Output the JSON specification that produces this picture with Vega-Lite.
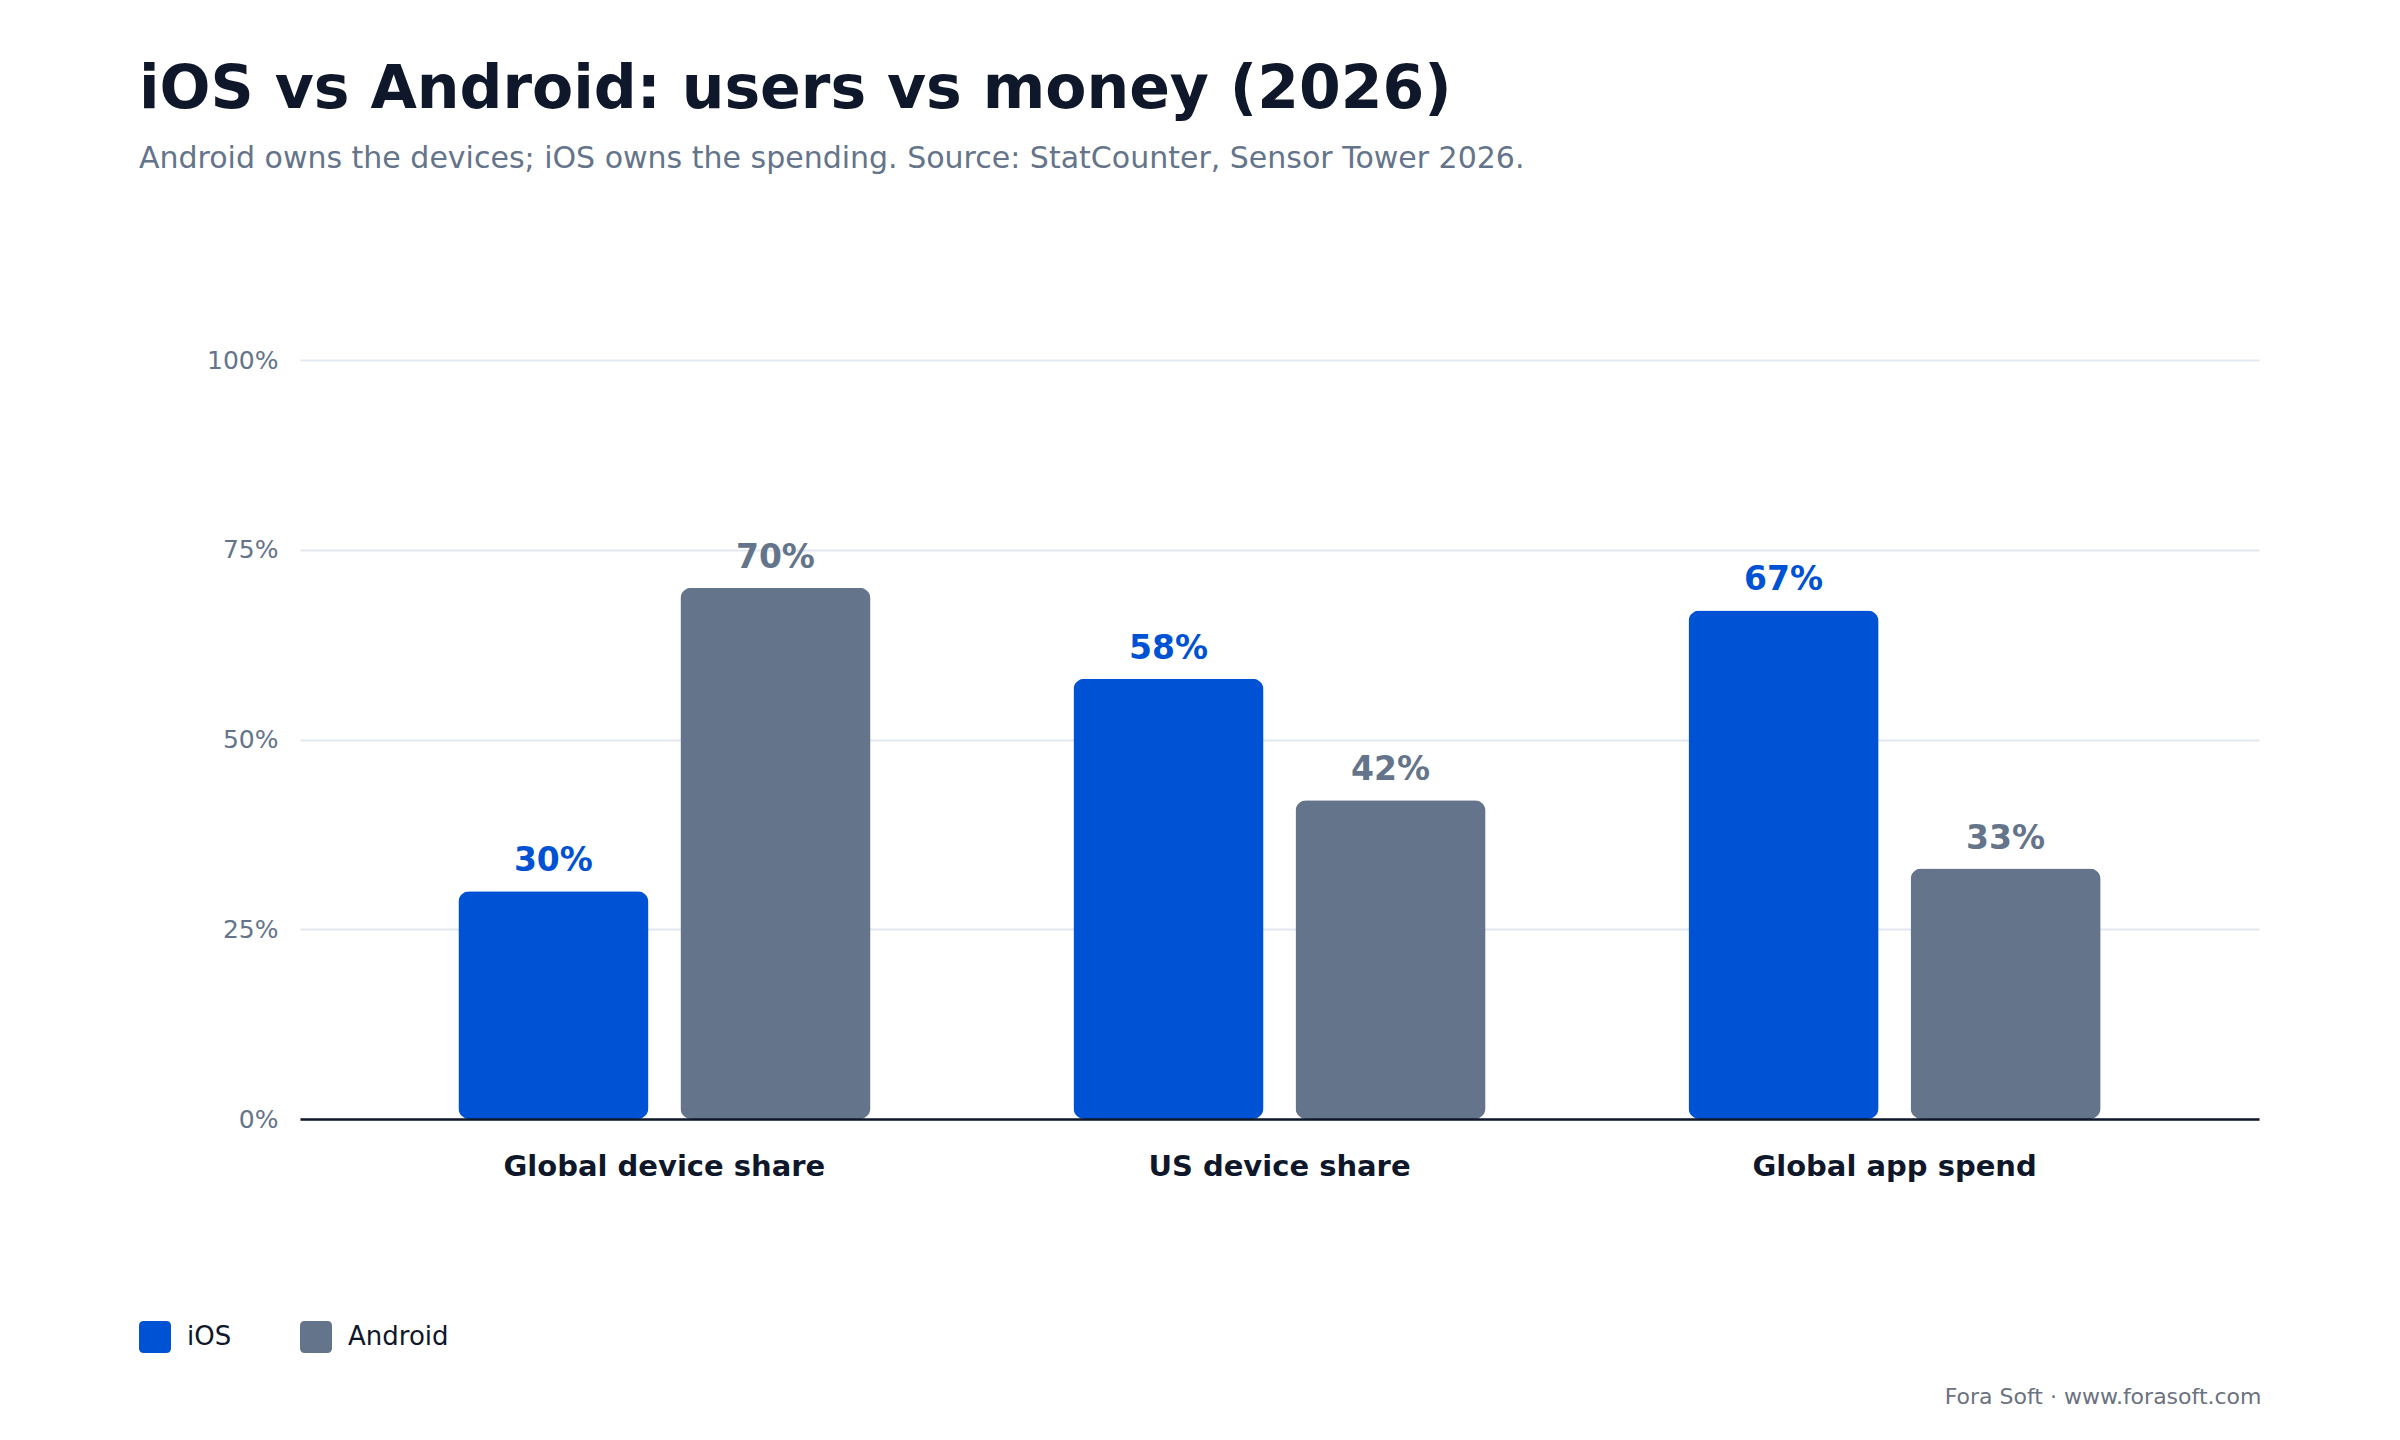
{
  "$schema": "https://vega.github.io/schema/vega-lite/v6.json",
  "autosize": {"type": "none"},
  "width": 1959,
  "height": 759,
  "padding": {"left": 300, "top": 360, "right": 141, "bottom": 321},
  "background": "white",
  "config": {"font": "DejaVu Sans", "view": {"stroke": null}},
  "title": {
    "text": "iOS vs Android: users vs money (2026)",
    "subtitle": "Android owns the devices; iOS owns the spending. Source: StatCounter, Sensor Tower 2026.",
    "anchor": "start",
    "frame": "group",
    "dx": -161,
    "offset": 173,
    "font": "DejaVu Sans",
    "fontSize": 60,
    "fontWeight": "bold",
    "color": "#0F172A",
    "subtitleFont": "DejaVu Sans",
    "subtitleFontSize": 30,
    "subtitleColor": "#64748B",
    "subtitlePadding": 23
  },
  "data": {
    "values": [
      {"metric": "Global device share", "os": "iOS", "share": 0.30},
      {"metric": "Global device share", "os": "Android", "share": 0.70},
      {"metric": "US device share", "os": "iOS", "share": 0.58},
      {"metric": "US device share", "os": "Android", "share": 0.42},
      {"metric": "Global app spend", "os": "iOS", "share": 0.67},
      {"metric": "Global app spend", "os": "Android", "share": 0.33}
    ]
  },
  "encoding": {
    "x": {
      "field": "metric",
      "type": "nominal",
      "sort": ["Global device share", "US device share", "Global app spend"],
      "scale": {"paddingInner": 0.33, "paddingOuter": 0.2575},
      "axis": {
        "orient": "bottom",
        "zindex": 1,
        "domain": true,
        "domainColor": "#0F172A",
        "domainWidth": 2.5,
        "ticks": false,
        "grid": false,
        "labelAngle": 0,
        "labelLimit": 0,
        "labelFontSize": 29,
        "labelFontWeight": "bold",
        "labelColor": "#0F172A",
        "labelPadding": 33,
        "title": "Fora Soft · www.forasoft.com",
        "titleAnchor": "end",
        "titleAlign": "right",
        "titleBaseline": "alphabetic",
        "titleX": 1961,
        "titleY": 284,
        "titleFontSize": 22,
        "titleFontWeight": "normal",
        "titleColor": "#6B7280"
      }
    },
    "xOffset": {
      "field": "os",
      "type": "nominal",
      "sort": ["iOS", "Android"],
      "scale": {"paddingInner": 0.144}
    },
    "y": {
      "field": "share",
      "type": "quantitative",
      "scale": {"domain": [0, 1]},
      "axis": {
        "values": [0, 0.25, 0.5, 0.75, 1],
        "format": ".0%",
        "domain": false,
        "ticks": false,
        "grid": true,
        "gridColor": "#E2E8F0",
        "gridWidth": 2,
        "labelFontSize": 25,
        "labelColor": "#64748B",
        "labelPadding": 22,
        "title": null
      }
    },
    "color": {
      "field": "os",
      "type": "nominal",
      "sort": ["iOS", "Android"],
      "scale": {"domain": ["iOS", "Android"], "range": ["#0052D4", "#64748B"]},
      "legend": {
        "orient": "none",
        "legendX": -161,
        "legendY": 961,
        "direction": "horizontal",
        "title": null,
        "symbolType": "M-0.7,-1H0.7Q1,-1 1,-0.7V0.7Q1,1 0.7,1H-0.7Q-1,1 -1,0.7V-0.7Q-1,-1 -0.7,-1Z",
        "symbolSize": 1024,
        "symbolStrokeWidth": 0,
        "symbolOpacity": 1,
        "labelFontSize": 26,
        "labelColor": "#0F172A",
        "labelOffset": 16,
        "columnPadding": 68
      }
    }
  },
  "layer": [
    {"mark": {"type": "bar", "cornerRadius": 11}},
    {
      "mark": {"type": "text", "dy": -20, "baseline": "alphabetic", "fontSize": 33, "fontWeight": "bold"},
      "encoding": {"text": {"field": "share", "type": "quantitative", "format": ".0%"}}
    }
  ]
}
